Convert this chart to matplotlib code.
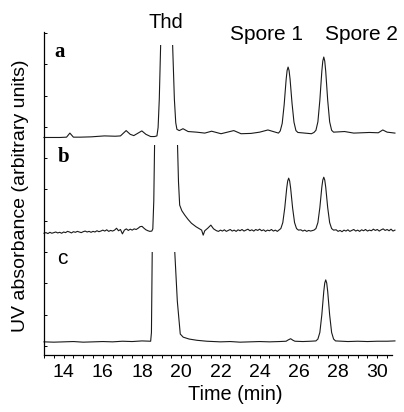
import numpy as np
import matplotlib
matplotlib.use("Agg")
import matplotlib.pyplot as plt
from matplotlib.patches import Rectangle

plt.rcParams["font.family"] = ["Liberation Sans", "DejaVu Sans"]

# --- chromatogram traces (time in min, signal in arbitrary units,
#     relative to each trace's own baseline). Thd is off-scale in every trace.
time_a = [13.0, 13.5, 13.82, 14.15, 14.32, 14.5, 14.85, 15.4, 16.08, 16.64, 16.9,
          17.19, 17.4, 17.58, 17.99, 18.2, 18.44, 18.64, 18.76, 18.82, 18.88, 18.95,
          19.27, 19.56, 19.65, 19.72, 19.78, 19.9, 20.09, 20.35, 20.78, 21.2, 21.55,
          22.03, 22.68, 23.05, 23.56, 24.0, 24.42, 24.96, 25.05, 25.15, 25.25, 25.35,
          25.4, 25.45, 25.5, 25.55, 25.65, 25.75, 25.85, 25.95, 26.13, 26.64, 26.77,
          26.87, 26.97, 27.07, 27.17, 27.22, 27.27, 27.32, 27.37, 27.47, 27.57, 27.67,
          27.77, 28.33, 28.8, 29.2, 29.6, 30.05, 30.28, 30.5, 30.64, 30.9]
sig_a = [-0.02, -0.02, -0.02, -0.01, 0.12, -0.01, -0.01, 0.0, 0.03, 0.02, 0.03,
         0.20, 0.08, 0.04, 0.19, 0.08, 0.01, 0.01, 0.03, 0.3, 1.2, 2.94,
         9.0, 2.94, 1.2, 0.45, 0.24, 0.2, 0.26, 0.17, 0.15, 0.12, 0.18,
         0.1, 0.2, 0.1, 0.11, 0.15, 0.22, 0.12, 0.19, 0.43, 1.03, 1.83,
         2.12, 2.23, 2.12, 1.85, 1.08, 0.47, 0.2, 0.14, 0.13, 0.1, 0.14,
         0.21, 0.48, 1.17, 2.09, 2.42, 2.55, 2.42, 2.09, 1.17, 0.48, 0.21,
         0.15, 0.17, 0.12, 0.13, 0.14, 0.13, 0.22, 0.15, 0.14, 0.12]

time_b = [13.0, 13.1, 13.2, 13.3, 13.4, 13.5, 13.6, 13.7, 13.8, 13.9, 14.0, 14.1,
          14.2, 14.3, 14.4, 14.5, 14.6, 14.7, 14.8, 14.9, 15.0, 15.1, 15.2, 15.3,
          15.4, 15.5, 15.6, 15.7, 15.8, 15.9, 16.0, 16.1, 16.2, 16.3, 16.4, 16.5,
          16.6, 16.7, 16.8, 16.9, 17.0, 17.1, 17.2, 17.3, 17.4, 17.5, 17.6, 17.7,
          17.8, 17.9, 18.0, 18.1, 18.2, 18.3, 18.4, 18.5, 18.55, 18.6, 18.64, 19.2,
          19.81, 19.86, 19.92, 20.03, 20.18, 20.35, 20.52, 20.75, 21.04, 21.12, 21.2,
          21.35, 21.51, 21.65, 21.8, 21.9, 22.0, 22.1, 22.2, 22.3, 22.4, 22.5, 22.6,
          22.7, 22.8, 22.9, 23.0, 23.1, 23.2, 23.3, 23.4, 23.5, 23.6, 23.7, 23.8,
          23.9, 24.0, 24.1, 24.2, 24.3, 24.4, 24.5, 24.6, 24.7, 24.8, 24.9, 24.98,
          25.08, 25.18, 25.28, 25.38, 25.43, 25.48, 25.53, 25.58, 25.68, 25.78, 25.88,
          25.98, 26.1, 26.2, 26.3, 26.4, 26.5, 26.6, 26.77, 26.87, 26.97, 27.07,
          27.17, 27.22, 27.27, 27.32, 27.37, 27.47, 27.57, 27.67, 27.77, 27.9, 28.0,
          28.1, 28.2, 28.3, 28.4, 28.5, 28.6, 28.7, 28.8, 28.9, 29.0, 29.1, 29.2,
          29.3, 29.4, 29.5, 29.6, 29.7, 29.8, 29.9, 30.0, 30.1, 30.2, 30.3, 30.4,
          30.5, 30.6, 30.7, 30.8, 30.9]
sig_b = [-0.04, -0.02, -0.05, -0.01, -0.04, -0.02, 0.0, -0.03, -0.01, -0.04, 0.0, -0.02,
         0.02, 0.0, -0.03, 0.01, -0.01, 0.02, 0.0, -0.02, 0.01, 0.03, 0.0, 0.02,
         -0.01, 0.02, 0.0, 0.04, 0.01, 0.03, 0.06, 0.03, 0.07, 0.02, 0.05, 0.03,
         0.06, 0.12, 0.04, 0.08, -0.06, 0.06, 0.1, 0.05, 0.09, 0.06, 0.1, 0.08,
         0.12, 0.17, 0.18, 0.12, 0.07, 0.04, 0.02, 0.03, 0.1, 1.0, 2.78, 9.0,
         2.78, 1.6, 0.86, 0.68, 0.54, 0.4, 0.28, 0.17, 0.06, -0.1, 0.04,
         0.12, 0.22, 0.1, 0.04, 0.02, 0.06, 0.03, 0.07, 0.02, 0.05, 0.08, 0.03,
         0.06, 0.02, 0.07, 0.04, 0.08, 0.03, 0.06, 0.09, 0.04, 0.07, 0.03, 0.08,
         0.05, 0.09, 0.04, 0.07, 0.02, 0.06, 0.04, 0.08, 0.03, 0.06, 0.02, 0.06,
         0.11, 0.30, 0.77, 1.40, 1.63, 1.72, 1.63, 1.40, 0.77, 0.30, 0.11,
         0.06, 0.07, 0.03, 0.06, 0.02, 0.05, 0.03, 0.06, 0.11, 0.30, 0.78,
         1.43, 1.66, 1.75, 1.66, 1.43, 0.78, 0.30, 0.11, 0.06, 0.07, 0.02,
         0.05, 0.01, 0.06, 0.03, 0.07, 0.02, 0.05, 0.08, 0.03, 0.06, 0.02, 0.07,
         0.04, 0.08, 0.03, 0.06, 0.04, 0.09, 0.05, 0.08, 0.03, 0.07, 0.1, 0.05,
         0.08, 0.04, 0.09, 0.03, 0.06]

time_c = [13.0, 13.5, 14.0, 14.5, 15.0, 15.5, 16.0, 16.5, 17.0, 17.5, 18.0, 18.44,
          18.48, 18.52, 19.1, 19.67, 19.8, 19.95, 20.1, 20.4, 20.8, 21.3, 22.0, 22.5,
          23.0, 23.5, 24.0, 24.5, 25.0, 25.35, 25.45, 25.58, 25.7, 25.8, 26.2, 26.6,
          26.87, 26.97, 27.07, 27.17, 27.27, 27.32, 27.37, 27.42, 27.47, 27.57, 27.67,
          27.77, 27.87, 28.5, 29.0, 29.5, 30.0, 30.5, 30.9]
sig_c = [0.0, -0.01, 0.0, 0.01, -0.01, 0.0, 0.01, 0.0, 0.02, 0.01, 0.03, 0.02,
         0.3, 2.87, 9.0, 2.87, 1.3, 0.25, 0.15, 0.09, 0.05, 0.02, 0.0, 0.01,
         -0.01, 0.0, 0.01, 0.0, 0.01, 0.02, 0.06, 0.1, 0.05, 0.02, 0.01, 0.02,
         0.03, 0.09, 0.3, 0.86, 1.61, 1.88, 1.98, 1.88, 1.61, 0.86, 0.3,
         0.09, 0.03, 0.01, 0.02, 0.01, 0.02, 0.02, 0.03]

traces = [
    # label, time, signal, baseline offset, top of the trace's window
    ("a", time_a, sig_a, 6.68, 9.62),
    ("b", time_b, sig_b, 3.64, 6.42),
    ("c", time_c, sig_c, 0.13, 3.0),
]

fig = plt.figure(figsize=(4.04, 4.12), dpi=100)
ax = fig.add_axes([44 / 404, 1 - 355 / 412, 348 / 404, 323 / 412])

for name, t, s, off, top in traces:
    line, = ax.plot(t, np.array(s) + off, color="#1a1a1a", lw=0.8, clip_on=True)
    # off-scale Thd peak: cut the trace at the top of its own window
    line.set_clip_path(Rectangle((12, -1), 20, top + 1, transform=ax.transData))

ax.set_xlim(13.0, 30.75)
ax.set_ylim(-0.29, 10.03)

ax.set_xticks(np.arange(14, 31, 2))
ax.set_xticks(np.arange(13, 31, 0.5), minor=True)
ax.set_yticks(np.arange(0, 11))
ax.set_yticklabels([])
ax.tick_params(axis="x", which="both", direction="out", length=2.5, width=0.7,
               labelsize=14, pad=4)
ax.tick_params(axis="y", direction="in", length=2.5, width=0.7)

for side in ["top", "right"]:
    ax.spines[side].set_visible(False)
for side in ["left", "bottom"]:
    ax.spines[side].set_linewidth(0.9)

# trace labels
fig.text(60 / 404, 1 - 52 / 412, "a", family="Liberation Serif", fontsize=15,
         fontweight="bold", ha="center", va="center")
fig.text(64 / 404, 1 - 157 / 412, "b", family="Liberation Serif", fontsize=15,
         fontweight="bold", ha="center", va="center")
fig.text(62 / 404, 1 - 258 / 412, "c", fontsize=15, ha="center", va="center")

# peak names
fig.text(166 / 404, 1 - 28 / 412, "Thd", fontsize=14.5, ha="center", va="baseline")
fig.text(267 / 404, 1 - 39.5 / 412, "Spore 1", fontsize=15, ha="center", va="baseline")
fig.text(361 / 404, 1 - 39.5 / 412, "Spore 2", fontsize=15, ha="center", va="baseline")

fig.text(20.5 / 404, 1 - 196 / 412, "UV absorbance (arbitrary units)", fontsize=14,
         rotation=90, ha="center", va="center")
fig.text(235 / 404, 1 - 400 / 412, "Time (min)", fontsize=14.3, ha="center",
         va="baseline")

fig.savefig("out.png", dpi=100)
